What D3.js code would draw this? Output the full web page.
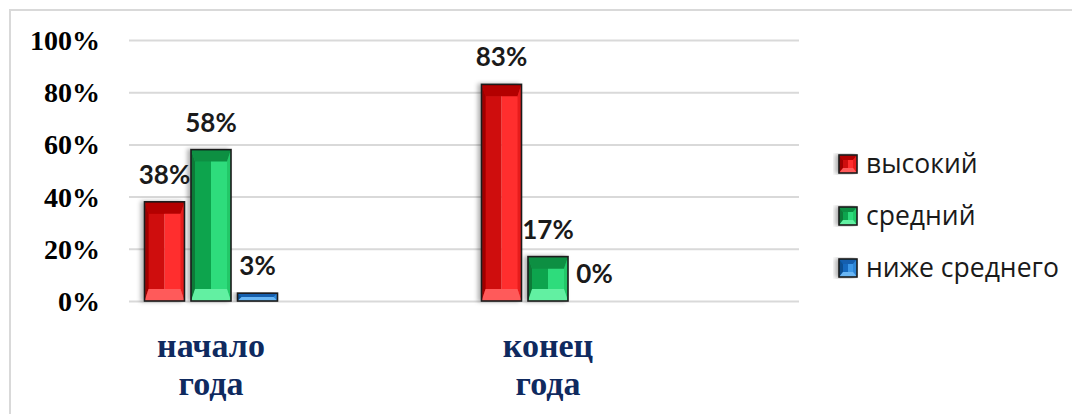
<!DOCTYPE html>
<html>
<head>
<meta charset="utf-8">
<script src="https://cdn.jsdelivr.net/npm/d3@7"></script>
<style>
  html, body { margin: 0; padding: 0; background: #fff; }
  svg { display: block; }
</style>
</head>
<body>
<svg id="chart" width="1072" height="414"></svg>
<script>
const categories = [["начало", "года"], ["конец", "года"]];
const categoryKeys = ["начало года", "конец года"];
const seriesNames = ["высокий", "средний", "ниже среднего"];
const valuesHigh = [0.38, 0.83];
const valuesMid = [0.58, 0.17];
const valuesLow = [0.03, 0.00];
const seriesValues = [valuesHigh, valuesMid, valuesLow];
const yTicks = [0, 0.2, 0.4, 0.6, 0.8, 1.0];

const palettes = [
  { lstrip: "#9e0000", faceL: "#cf0a0a", faceR: "#ff2f2f", rstrip: "#e81c1c", top: "#b30000", bottom: "#ff5a5a" },
  { lstrip: "#087a38", faceL: "#0fa44e", faceR: "#2fdc7c", rstrip: "#22c868", top: "#0b8f43", bottom: "#62f0a2" },
  { lstrip: "#0c4f92", faceL: "#1769be", faceR: "#3d98e8", rstrip: "#2f86d6", top: "#125fae", bottom: "#6ab6f4" }
];

const svg = d3.select("#chart");
const defs = svg.append("defs");

const f = defs.append("filter").attr("id", "shadow").attr("x", "-30%").attr("y", "-10%").attr("width", "160%").attr("height", "120%");
f.append("feDropShadow").attr("dx", -3).attr("dy", 0).attr("stdDeviation", 2.2)
  .attr("flood-color", "#000").attr("flood-opacity", 0.3);

// frame
svg.append("rect").attr("x", 10).attr("y", 10).attr("width", 1080).attr("height", 420)
  .attr("fill", "none").attr("stroke", "#d9d9d9").attr("stroke-width", 2);

const y = d3.scaleLinear().domain([0, 1]).range([301, 40]);
const x0 = d3.scaleBand().domain(categoryKeys).range([42.5, 716.5]).padding(0);
const x1 = d3.scaleBand().domain(seriesNames).range([-66.5, 66.5]).paddingInner(0.14).paddingOuter(0);

const plotLeft = 129, plotRight = 799;

// axis with gridlines
const axis = svg.append("g").attr("transform", `translate(${plotLeft},0)`)
  .call(d3.axisLeft(y).tickValues(yTicks).tickFormat(d3.format(".0%"))
    .tickSize(-(plotRight - plotLeft)).tickPadding(29));
axis.select(".domain").remove();
axis.selectAll(".tick line").attr("stroke", "#d9d9d9").attr("stroke-width", 2);
axis.selectAll(".tick text")
  .attr("font-family", "'Liberation Serif', 'Times New Roman', serif")
  .attr("font-weight", "bold").attr("font-size", 28).attr("fill", "#000")
  .attr("dy", "0.34em");

// bars
function bevelBar(g, xx, yy, w, h, p, bevel, strip) {
  if (h <= 0) return;
  const b = Math.min(bevel, h / 2);
  const s = Math.min(strip, w / 4);
  const L = xx, R = xx + w, T = yy, B = yy + h, M = xx + w / 2;
  const poly = pts => pts.map(q => q.join(",")).join(" ");
  const bar = g.append("g").attr("filter", "url(#shadow)");
  bar.append("rect").attr("x", L).attr("y", T).attr("width", w / 2).attr("height", h).attr("fill", p.faceL);
  bar.append("rect").attr("x", M).attr("y", T).attr("width", w / 2).attr("height", h).attr("fill", p.faceR);
  bar.append("polygon").attr("points", poly([[L, T], [L + s, T + b], [L + s, B - b], [L, B]])).attr("fill", p.lstrip);
  bar.append("polygon").attr("points", poly([[R, T], [R - s, T + b], [R - s, B - b], [R, B]])).attr("fill", p.rstrip);
  bar.append("polygon").attr("points", poly([[L, T], [R, T], [R - s, T + b], [L + s, T + b]])).attr("fill", p.top);
  bar.append("polygon").attr("points", poly([[L, B], [R, B], [R - s, B - b], [L + s, B - b]])).attr("fill", p.bottom);
  bar.append("rect").attr("x", L).attr("y", T).attr("width", w).attr("height", h)
    .attr("fill", "none").attr("stroke", "#1c1c1c").attr("stroke-width", 1.6);
}

const barsG = svg.append("g");
const labelsG = svg.append("g");
categoryKeys.forEach((cat, ci) => {
  const cx = x0(cat) + x0.bandwidth() / 2;
  seriesNames.forEach((s, si) => {
    const v = seriesValues[si][ci];
    const bx = cx + x1(s);
    const bw = x1.bandwidth();
    const top = y(v);
    const h = y(0) - top;
    bevelBar(barsG, bx, top, bw, h, palettes[si], 12, 4);
    labelsG.append("text")
      .attr("x", bx + bw / 2).attr("y", top - 18)
      .attr("text-anchor", "middle")
      .attr("font-family", "Lato, 'Open Sans', sans-serif")
      .attr("font-weight", "bold").attr("font-size", 26).attr("fill", "#1a1a1a")
      .text(d3.format(".0%")(v));
  });
  // category labels
  const t = svg.append("text")
    .attr("text-anchor", "middle")
    .attr("font-family", "'Liberation Serif', 'Times New Roman', serif")
    .attr("font-weight", "bold").attr("font-size", 34).attr("fill", "#0f2a5f");
  categories[ci].forEach((line, li) => {
    t.append("tspan").attr("x", cx).attr("y", 357 + li * 38).text(line);
  });
});

// legend
const legend = svg.append("g");
seriesNames.forEach((s, si) => {
  const ly = 164 + si * 52;
  const p = palettes[si];
  const sw = legend.append("g");
  bevelBar(sw, 839, ly - 9, 18, 18, p, 5, 4);
  legend.append("text").attr("x", 866).attr("y", ly).attr("dy", "0.35em")
    .attr("font-family", "'Open Sans', sans-serif").attr("font-size", 26.5).attr("fill", "#1a1a1a")
    .text(s);
});
</script>
</body>
</html>
